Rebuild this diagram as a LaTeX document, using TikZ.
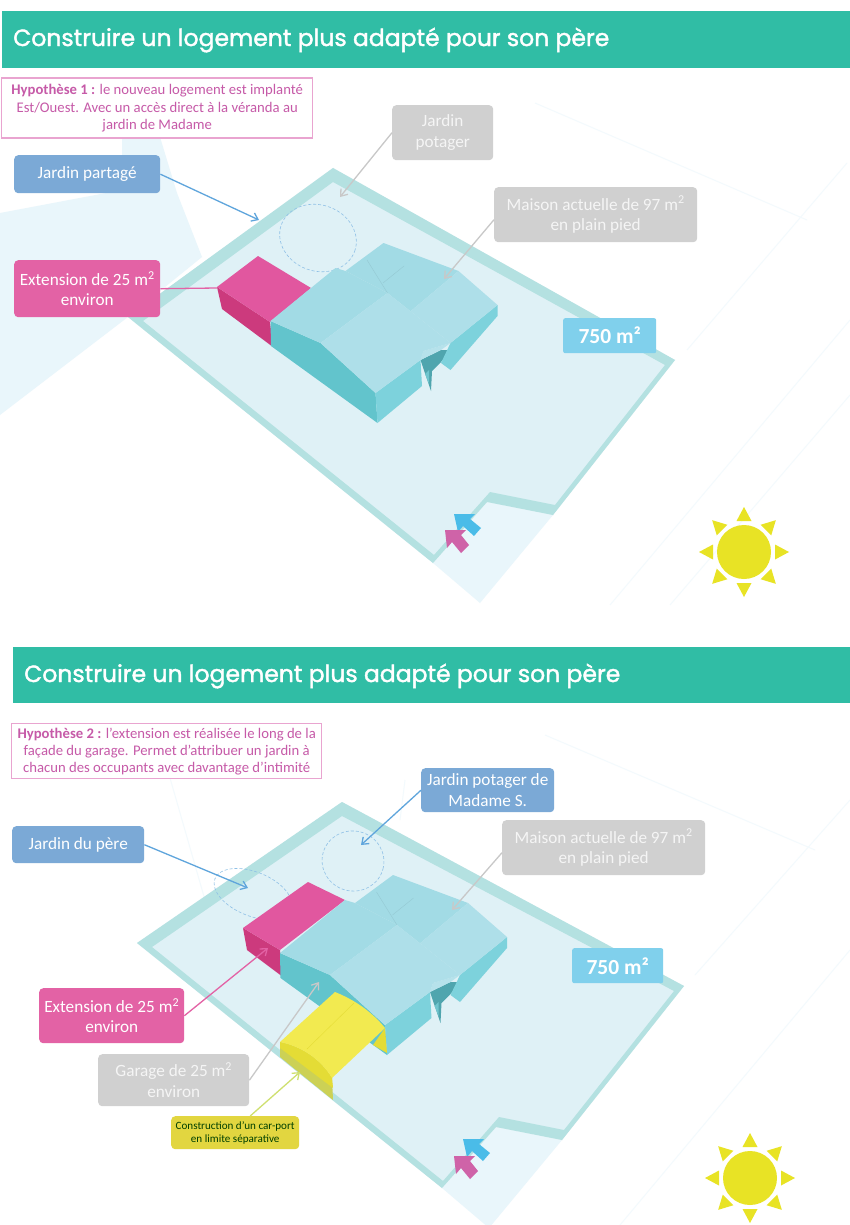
\documentclass[tikz,border=0pt]{standalone}
\usepackage{fontspec}
\setmainfont{Carlito}
\newfontfamily\titlefont[FakeBold=1.6]{Poppins}
\usetikzlibrary{arrows.meta,calc}
\definecolor{band}{HTML}{30BDA5}
\definecolor{floorc}{HTML}{DFF1F6}
\definecolor{palec}{HTML}{E9F6FB}
\definecolor{wallc}{HTML}{B4E1E1}
\definecolor{bluel}{HTML}{7BA9D6}
\definecolor{arrowb}{HTML}{5FA5DC}
\definecolor{pinkl}{HTML}{E362A5}
\definecolor{pinktop}{HTML}{E1579F}
\definecolor{pinkwall}{HTML}{CC3A7D}
\definecolor{grayl}{HTML}{D0D0D0}
\definecolor{arrowg}{HTML}{C8C8C8}
\definecolor{skyl}{HTML}{80D0EC}
\definecolor{magt}{HTML}{C65AA8}
\definecolor{magb}{HTML}{E9A4D0}
\definecolor{rooftop}{HTML}{A2DBE5}
\definecolor{roofl}{HTML}{AEDFE9}
\definecolor{wallleft}{HTML}{62C4CC}
\definecolor{wallright}{HTML}{7DD2DC}
\definecolor{porchc}{HTML}{4FA5AE}
\definecolor{sunc}{HTML}{E8E325}
\definecolor{yellowt}{HTML}{F2EA50}
\definecolor{yelloww}{HTML}{E4DC35}
\definecolor{yellowl}{HTML}{CCD155}
\definecolor{carport}{HTML}{E2D640}
\definecolor{arrowy}{HTML}{CFE070}
\definecolor{entryb}{HTML}{4ABCE8}
\definecolor{entryp}{HTML}{CF63A8}
\tikzset{
  x=1pt,y=-1pt,
  titleband/.style={fill=band,draw=none,inner sep=0pt},
  titletext/.style={font=\titlefont\fontsize{23.5}{26}\selectfont,text=white,anchor=west,inner sep=0pt},
  hypobox/.style={draw=magb,line width=1.4pt,fill=white,inner sep=0pt,align=center,text=magt,font=\fontsize{14.7}{17.5}\selectfont},
  label/.style={rounded corners=4pt,inner sep=0pt,align=center,text=white,font=\fontsize{17.2}{20.5}\selectfont},
  bluebox/.style={label,fill=bluel},
  pinkbox/.style={label,fill=pinkl},
  graybox/.style={label,fill=grayl,text=white!92!gray},
  areabox/.style={label,rounded corners=2pt,fill=skyl,font=\bfseries\fontsize{21.5}{24}\selectfont},
  carbox/.style={label,fill=carport,text=black!75!green,font=\fontsize{11.1}{13}\selectfont},
  barrow/.style={draw=arrowb,line width=1.3pt,-{Straight Barb[length=6pt,width=9pt]}},
  garrow/.style={draw=arrowg,line width=1.3pt,-{Straight Barb[length=6pt,width=9pt]}},
  parrow/.style={draw=pinkl,line width=1.3pt},
  yarrow/.style={draw=arrowy,line width=1.3pt,-{Straight Barb[length=6pt,width=9pt]}},
  gardenring/.style={draw=arrowb!70,densely dashed,line width=.6pt},
  faint/.style={draw=palec!55,line width=1pt},
}
\newcommand{\sunmark}[2]{%
  \begin{scope}[shift={(#1,#2)}]
    \fill[sunc] (0,0) circle[radius=27pt];
    \foreach \a in {0,45,...,315}{
      \begin{scope}[rotate=\a]
        \fill[sunc] (31,-7.5) -- (45,0) -- (31,7.5) -- cycle;
      \end{scope}}
  \end{scope}}
\newcommand{\buildingroof}{%
  \fill[porchc] (421.5,362) -- (442,352) -- (451.5,352) -- (442,364) -- (433,373) -- (432,393) -- cycle;
  \fill[wallleft] (271.5,323) -- (321.5,345) -- (376.5,395) -- (378.5,425) -- (272,348) -- cycle;
  \fill[wallright] (376.5,395) -- (421.5,362) -- (423,388) -- (378.5,425) -- cycle;
  \fill[wallright] (451.5,345) -- (498.5,307) -- (498.5,318) -- (451.5,372) -- (442,365) -- cycle;
  \fill[wallright!70!porchc] (426,376) -- (430,372) -- (430,386) -- cycle;
  \fill[roofl!90!white] (424.5,353) -- (451.5,345) -- (442,352) -- (421.5,362) -- cycle;
  \fill[rooftop] (336.5,270) -- (346.5,273) -- (388.5,295) -- (321.5,345) -- (271.5,323) -- cycle;
  \fill[rooftop] (346.5,273) -- (384.5,245) -- (459.5,273) -- (411.5,313.3) -- (388.5,295) -- cycle;
  \fill[roofl] (388.5,295) -- (451.5,345) -- (424.5,353) -- (421.5,362) -- (376.5,395) -- (321.5,345) -- cycle;
  \fill[roofl] (411.5,313.3) -- (459.5,273) -- (498.5,307) -- (451.5,345) -- cycle;
  \draw[rooftop!92!black,line width=.4pt] (368,262) -- (388.5,295) (384,285) -- (405,268);}
\begin{document}
\begin{tikzpicture}
\useasboundingbox (0,0) rectangle (850,1225);
\fill[white] (0,0) rectangle (850,1225);

% ---------- first slide
\fill[palec] (122,137) -- (160,137) -- (177,193) -- (202,257) -- (128,317) -- (0,415) -- (0,213) -- (122,190) -- cycle;
\draw[faint] (610,605) -- (850,320);
\draw[faint] (670,605) -- (850,395);
\draw[faint] (535,103) -- (807,220);
\draw[faint] (847,163) -- (687,350);
\fill[palec] (433,563) -- (480,603) -- (553,515) -- (487,502) -- cycle;
\fill[floorc] (333,168) -- (675,360) -- (553,515) -- (487,502) -- (433,563) -- (128,317) -- cycle;
\fill[wallc,even odd rule] (333,168) -- (675,360) -- (553,515) -- (487,502) -- (433,563) -- (128,317) -- cycle
  (333,182) -- (143,321) -- (434,555) -- (490,492) -- (555,505) -- (665,365) -- cycle;
\node[titleband,minimum width=848pt,minimum height=57pt,anchor=north west] (band1) at (2,11) {};
\node[titletext] (title1) at (13,40) {Construire un logement plus adapté pour son père};
\draw[gardenring,rotate around={-20:(318,238)}] (318,238) ellipse[x radius=39pt,y radius=33pt];
\fill[pinkwall] (217,287) -- (270,322) -- (273,347) -- (222,309) -- cycle;
\fill[pinktop] (258,256) -- (311,288) -- (270,322) -- (217,287) -- cycle;
\begin{scope}[shift={(-1,-2)}]
\buildingroof
\end{scope}
\node[hypobox,minimum width=311pt,minimum height=60pt,anchor=north west] (hypo1) at (1,77.5) {\textbf{Hypothèse 1 :} le nouveau logement est implanté\\Est/Ouest. Avec un accès direct à la véranda au\\jardin de Madame};
\node[bluebox,minimum width=146pt,minimum height=38pt,anchor=north west] (jp1) at (14,155) {Jardin partagé};
\node[pinkbox,minimum width=146pt,minimum height=57pt,anchor=north west] (ext1) at (14,260) {Extension de 25 m\textsuperscript{2}\\environ};
\node[graybox,minimum width=101pt,minimum height=55pt,anchor=north west] (pot1) at (392,105) {Jardin\\potager};
\node[graybox,minimum width=203pt,minimum height=55pt,anchor=north west] (mais1) at (494,187) {Maison actuelle de 97 m\textsuperscript{2}\\en plain pied};
\node[areabox,minimum width=93pt,minimum height=35pt,anchor=north west] (area1) at (563,318) {750 m²};
\coordinate (c1a) at (259,220);
\coordinate (c1b) at (340,197);
\coordinate (c1c) at (444,279);
\coordinate (c1d) at (217,288);
\draw[barrow] (jp1.east) -- (c1a);
\draw[garrow] (pot1.west) -- (c1b);
\draw[garrow] ($(mais1.west)+(0,5)$) -- (c1c);
\draw[parrow] (ext1.east) -- (c1d);
\fill[entryb] (454,514) -- (475,514) -- (470,519) -- (481,528) -- (474,536) -- (463,526) -- (458,532) -- cycle;
\fill[entryp] (445,530) -- (466,530) -- (461,535) -- (469,545) -- (461,553) -- (452,542) -- (447,548) -- cycle;
\sunmark{744}{552}

% ---------- second slide
\draw[faint] (620,1225) -- (850,950);
\draw[faint] (405,780) -- (400,820);
\draw[faint] (170,778) -- (205,900);
\draw[faint] (545,735) -- (815,850);
\draw[faint] (850,800) -- (695,975);
\fill[palec] (442,1188) -- (489,1228) -- (562,1140) -- (496,1127) -- cycle;
\fill[floorc] (342,802) -- (684,986) -- (562,1140) -- (496,1127) -- (442,1188) -- (137,943) -- cycle;
\fill[wallc,even odd rule] (342,802) -- (684,986) -- (562,1140) -- (496,1127) -- (442,1188) -- (137,943) -- cycle
  (342,816) -- (152,947) -- (443,1181) -- (499,1117) -- (564,1130) -- (674,991) -- cycle;
\node[titleband,minimum width=837pt,minimum height=56pt,anchor=north west] (band2) at (13,647) {};
\node[titletext] (title2) at (24,676) {Construire un logement plus adapté pour son père};
\draw[gardenring,rotate around={-15:(353,861)}] (353,861) ellipse[x radius=31pt,y radius=30pt];
\draw[gardenring,rotate around={-22:(253,894)}] (253,894) ellipse[x radius=41pt,y radius=22pt];
\fill[pinkwall] (243,928) -- (280,950) -- (283,977) -- (247,950) -- cycle;
\fill[pinktop] (308,882) -- (345,900) -- (280,950) -- (243,928) -- cycle;
\begin{scope}[shift={(8.5,630)}]
\buildingroof
\end{scope}
\fill[yellowl] (280,1042) .. controls (300,1046) and (320,1058) .. (332,1078) -- (333,1100) -- (280,1057) -- cycle;
\fill[yelloww] (280,1042) .. controls (300,1046) and (320,1058) .. (332,1078) -- (333,1088) -- (280,1048) -- cycle;
\fill[yelloww] (385,1028) -- (387,1053) -- (373,1045) -- cycle;
\fill[yellowt] (335,992) .. controls (355,1000) and (372,1012) .. (385,1028) -- (332,1078) .. controls (320,1058) and (300,1046) .. (280,1042) -- cycle;
\draw[yelloww,line width=.4pt] (307,1049) -- (354,1003);
\node[hypobox,minimum width=310pt,minimum height=55pt,anchor=north west,font=\fontsize{14.7}{17}\selectfont] (hypo2) at (11,723) {\textbf{Hypothèse 2 :} l’extension est réalisée le long de la\\façade du garage. Permet d’attribuer un jardin à\\chacun des occupants avec davantage d’intimité};
\node[bluebox,minimum width=132pt,minimum height=37pt,anchor=north west] (jp2) at (12,826) {Jardin du père};
\node[bluebox,minimum width=133pt,minimum height=44pt,anchor=north west] (pot2) at (421,768) {Jardin potager de\\Madame S.};
\node[graybox,minimum width=203pt,minimum height=55pt,anchor=north west] (mais2) at (502,820) {Maison actuelle de 97 m\textsuperscript{2}\\en plain pied};
\node[areabox,minimum width=91pt,minimum height=35pt,anchor=north west] (area2) at (572,948) {750 m²};
\node[pinkbox,minimum width=145pt,minimum height=55pt,anchor=north west] (ext2) at (39,988) {Extension de 25 m\textsuperscript{2}\\environ};
\node[graybox,minimum width=151pt,minimum height=52pt,anchor=north west] (gar2) at (98,1054) {Garage de 25 m\textsuperscript{2}\\environ};
\node[carbox,minimum width=128pt,minimum height=33pt,anchor=north west] (car2) at (171,1116) {Construction d’un car-port\\en limite séparative};
\coordinate (c2a) at (248,888);
\coordinate (c2b) at (361,845);
\coordinate (c2c) at (452,910);
\coordinate (c2d) at (268,948);
\coordinate (c2e) at (319,982);
\coordinate (c2f) at (300,1072);
\draw[barrow] (jp2.east) -- (c2a);
\draw[barrow] (pot2.west) -- (c2b);
\draw[garrow] ($(mais2.west)+(0,5)$) -- (c2c);
\draw[parrow,-{Straight Barb[length=6pt,width=9pt]}] (ext2.east) -- (c2d);
\draw[garrow] (gar2.east) -- (c2e);
\draw[yarrow] ($(car2.north)+(15,0)$) -- (c2f);
\fill[entryb] (463,1139) -- (484,1139) -- (479,1144) -- (490,1153) -- (483,1161) -- (472,1151) -- (467,1157) -- cycle;
\fill[entryp] (454,1156) -- (475,1156) -- (470,1161) -- (478,1171) -- (470,1179) -- (461,1168) -- (456,1174) -- cycle;
\sunmark{750}{1178}
\end{tikzpicture}
\end{document}
